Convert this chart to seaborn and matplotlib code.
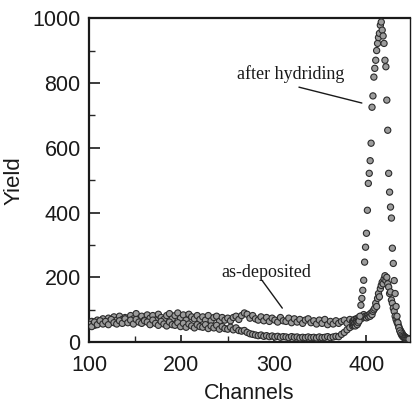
import matplotlib
matplotlib.use("Agg")
import matplotlib.pyplot as plt
from matplotlib.ticker import MultipleLocator
import numpy as np
import pandas as pd
import seaborn as sns

# ---- data ----
flat_channels = list(range(100, 386, 3))
peak_channels = list(range(386, 447))

as_deposited_flat = [
    58, 64, 52, 68, 62, 72, 58, 74, 66, 78, 68,
    80, 70, 76, 64, 82, 72, 88, 72, 80, 68,
    84, 74, 82, 68, 86, 76, 70, 82, 88, 72,
    82, 90, 74, 84, 68, 86, 78, 72, 82, 70,
    78, 68, 82, 66, 76, 80, 64, 76, 68, 74,
    66, 76, 80, 70, 82, 90, 86, 74, 82, 72,
    68, 78, 66, 76, 64, 74, 68, 62, 76, 66,
    64, 74, 60, 72, 62, 70, 58, 68, 72, 60,
    66, 56, 68, 58, 70, 54, 64, 56, 66, 58,
    64, 68, 58, 70, 64,
]
as_deposited_peak = [
    65, 70, 62, 72, 68, 75, 70, 78, 72, 80,
    75, 85, 78, 80, 75, 82, 78, 85, 80, 90,
    85, 95, 100, 105, 120, 110, 135, 150, 140, 165,
    175, 185, 180, 195, 205, 190, 200, 180, 170, 150,
    155, 130, 120, 105, 95, 80, 70, 62, 55, 48,
    40, 35, 30, 25, 20, 18, 15, 13, 12, 11, 10,
]

after_hydriding_flat = [
    55, 48, 62, 54, 66, 56, 64, 54, 70, 60, 56,
    66, 58, 72, 60, 68, 56, 70, 62, 58, 66,
    62, 54, 68, 58, 52, 64, 56, 50, 62, 54,
    52, 60, 48, 58, 46, 56, 50, 44, 54, 48,
    46, 54, 42, 50, 44, 52, 40, 48, 42, 40,
    46, 38, 44, 36, 34, 36, 30, 26, 24, 22,
    20, 22, 18, 20, 17, 19, 16, 18, 15, 17,
    16, 14, 17, 15, 16, 13, 15, 14, 16, 14,
    15, 13, 16, 14, 15, 17, 14, 16, 18, 17,
    24, 30, 38, 45, 50,
]
after_hydriding_peak = [
    52, 55, 50, 58, 54, 60, 65, 80, 114, 135,
    160, 191, 247, 293, 336, 407, 490, 521, 560, 614,
    725, 760, 818, 845, 870, 900, 922, 940, 953, 978,
    988, 963, 945, 922, 870, 850, 747, 654, 521, 463,
    417, 383, 290, 243, 190, 150, 110, 80, 60, 45,
    35, 28, 22, 18, 15, 13, 12, 11, 10, 10, 9,
]

x_ticks = [100, 200, 300, 400]
y_ticks = [0, 200, 400, 600, 800, 1000]

# ---- build table ----
df = pd.concat([
    pd.DataFrame({"Channels": flat_channels + peak_channels,
                  "Yield": as_deposited_flat + as_deposited_peak,
                  "sample": "as-deposited"}),
    pd.DataFrame({"Channels": flat_channels + peak_channels,
                  "Yield": after_hydriding_flat + after_hydriding_peak,
                  "sample": "after hydriding"}),
], ignore_index=True)

sns.set_style("ticks")
plt.rcParams["font.family"] = ["Liberation Sans", "DejaVu Sans"]

fig, ax = plt.subplots(figsize=(4.12, 4.03), dpi=100)
fig.subplots_adjust(left=0.216, right=0.995, bottom=0.151, top=0.955)

sns.scatterplot(data=df, x="Channels", y="Yield", hue="sample",
                palette={"as-deposited": "#9c9c9c", "after hydriding": "#9c9c9c"},
                s=20, edgecolor="#2b2b2b", linewidth=0.8, legend=False, ax=ax,
                zorder=3)

ax.set_xlim(100, 447)
ax.set_ylim(0, 1000)
ax.set_xticks(x_ticks)
ax.set_yticks(y_ticks)
ax.xaxis.set_minor_locator(MultipleLocator(50))
ax.yaxis.set_minor_locator(MultipleLocator(100))
ax.tick_params(axis="both", which="major", direction="in", length=8, width=1.2,
               labelsize=15.5, colors="#1a1a1a", pad=6)
ax.tick_params(axis="x", which="major", length=5, pad=9)
ax.tick_params(axis="both", which="minor", direction="in", length=4, width=1.0)

for side in ["left", "bottom", "top"]:
    ax.spines[side].set_linewidth(1.6)
    ax.spines[side].set_color("#1a1a1a")
ax.spines["right"].set_linewidth(1.0)
ax.spines["right"].set_color("#1a1a1a")

ax.set_xlabel("Channels", fontsize=15.5, labelpad=5, color="#1a1a1a")
ax.set_ylabel("Yield", fontsize=16, labelpad=6, color="#1a1a1a")

serif = ["Liberation Serif", "DejaVu Serif"]
ax.text(318, 827, "after hydriding", fontsize=13, family=serif,
        ha="center", va="center", color="#1a1a1a")
ax.plot([327, 395], [787, 738], color="#1a1a1a", lw=1.0)
ax.text(292, 216, "as-deposited", fontsize=13, family=serif,
        ha="center", va="center", color="#1a1a1a")
ax.plot([287, 309], [191, 105], color="#1a1a1a", lw=1.0)

fig.savefig("out.png", dpi=100)
